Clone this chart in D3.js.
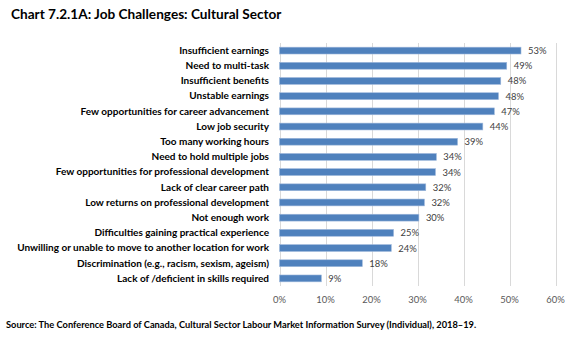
<!DOCTYPE html>
<html><head><meta charset="utf-8">
<script src="https://cdn.jsdelivr.net/npm/d3@7"></script>
<style>body{margin:0;background:#fff}svg{display:block}</style>
</head><body>
<script>
const categories = [
  "Insufficient earnings",
  "Need to multi-task",
  "Insufficient benefits",
  "Unstable earnings",
  "Few opportunities for career advancement",
  "Low job security",
  "Too many working hours",
  "Need to hold multiple jobs",
  "Few opportunities for professional development",
  "Lack of clear career path",
  "Low returns on professional development",
  "Not enough work",
  "Difficulties gaining practical experience",
  "Unwilling or unable to move to another location for work",
  "Discrimination (e.g., racism, sexism, ageism)",
  "Lack of /deficient in skills required"
];
const values = [52.5, 49.4, 48.1, 47.6, 46.7, 44.2, 38.7, 34.1, 33.9, 31.8, 31.5, 30.3, 24.8, 24.3, 18.0, 9.1];
const valueLabels = ["53%","49%","48%","48%","47%","44%","39%","34%","34%","32%","32%","30%","25%","24%","18%","9%"];
const ticks = [0, 10, 20, 30, 40, 50, 60];
const title = "Chart 7.2.1A: Job Challenges: Cultural Sector";
const source = "Source: The Conference Board of Canada, Cultural Sector Labour Market Information Survey (Individual), 2018\u201319.";

const W = 572, H = 337;
const FONT = "Lato, 'Open Sans', sans-serif";
const canvas = document.createElement("canvas");
const ctx = canvas.getContext("2d");
function fitSize(text, weight, target) {
  ctx.font = weight + " 20px Lato";
  return 20 * target / ctx.measureText(text).width;
}

const svg = d3.select("body").append("svg").attr("width", W).attr("height", H);

const x = d3.scaleLinear().domain([0, 60]).range([279.5, 555.5]);
const y = d3.scaleBand().domain(categories).range([43, 286]).paddingInner(0.55).paddingOuter(0.275);

// gridlines
svg.append("g").selectAll("line").data(ticks).join("line")
  .attr("x1", d => Math.round(x(d)) + 0.5).attr("x2", d => Math.round(x(d)) + 0.5)
  .attr("y1", 43).attr("y2", 286)
  .attr("stroke", "#d9d9d9").attr("stroke-width", 1);

// tick labels
const tickSize = fitSize("60%", "normal", 18.5);
svg.append("g").selectAll("text").data(ticks).join("text")
  .attr("x", d => x(d)).attr("y", 303)
  .attr("text-anchor", "middle")
  .attr("font-family", FONT).attr("font-size", tickSize).attr("fill", "#595959")
  .text(d => d + "%");

// bars
svg.append("g").selectAll("rect").data(values).join("rect")
  .attr("x", x(0)).attr("y", (d, i) => y(categories[i]))
  .attr("width", d => x(d) - x(0)).attr("height", y.bandwidth())
  .attr("fill", "#4f81bd").attr("stroke", "#9db7db").attr("stroke-width", 0.6);

// value labels
const valSize = fitSize("53%", "normal", 18.5);
svg.append("g").selectAll("text").data(values).join("text")
  .attr("x", d => x(d) + 7).attr("y", (d, i) => y(categories[i]) + y.bandwidth() / 2 + 3.5)
  .attr("font-family", FONT).attr("font-size", valSize).attr("fill", "#404040")
  .text((d, i) => valueLabels[i]);

// category labels
const catSize = fitSize(categories[13], "bold", 253);
svg.append("g").selectAll("text").data(categories).join("text")
  .attr("x", 269).attr("y", d => y(d) + y.bandwidth() / 2 + 3.3)
  .attr("text-anchor", "end")
  .attr("font-family", FONT).attr("font-weight", "bold").attr("font-size", catSize).attr("fill", "#000")
  .text(d => d);

// title
svg.append("text").attr("x", 11).attr("y", 18.5)
  .attr("font-family", FONT).attr("font-weight", "bold")
  .attr("font-size", fitSize(title, "bold", 271)).attr("fill", "#000").text(title);

// source
svg.append("text").attr("x", 6).attr("y", 328)
  .attr("font-family", FONT).attr("font-weight", "bold")
  .attr("font-size", fitSize(source, "bold", 472)).attr("fill", "#000").text(source);
</script>
</body></html>
